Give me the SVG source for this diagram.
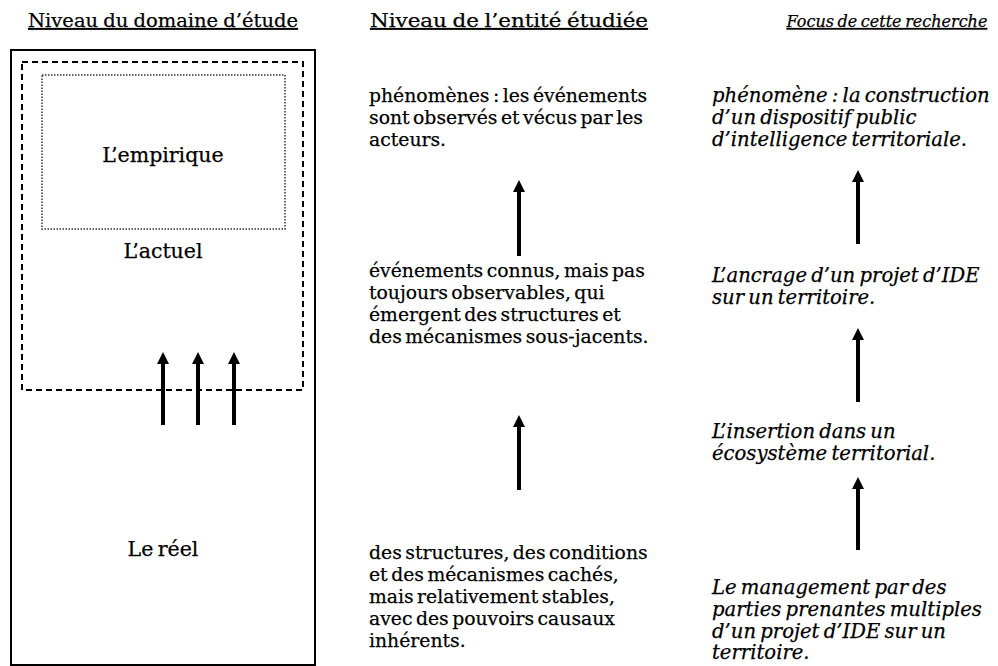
<svg xmlns="http://www.w3.org/2000/svg" width="998" height="666" viewBox="0 0 998 666">
  <style>
    text { font-family: "DejaVu Serif", "Liberation Serif", serif; fill: #000; stroke: #000; stroke-width: 0.25; font-size: 18.8px; word-spacing: -2.5px; }
    .hdr { text-decoration: underline; font-size: 18.5px; word-spacing: -1px; }
    .hdri { font-style: italic; font-size: 16px; word-spacing: -1.5px; text-anchor: middle; }
    .lbl { font-size: 20.5px; text-anchor: middle; word-spacing: -2px; }
    .it { font-style: italic; font-size: 19.6px; word-spacing: -2px; }
    .shaft { stroke: #000; stroke-width: 4; fill: none; }
  </style>
  <defs>
    <marker id="ah" markerUnits="userSpaceOnUse" markerWidth="12" markerHeight="12" viewBox="0 0 12 12" refX="2" refY="6" orient="auto">
      <path d="M0,0 L12,6 L0,12 z" fill="#000"/>
    </marker>
  </defs>
  <rect width="998" height="666" fill="#fff"/>

  <g id="headers">
    <text class="hdr" x="28" y="27" textLength="270" lengthAdjust="spacingAndGlyphs">Niveau du domaine d’étude</text>
    <text class="hdr" x="370" y="27" textLength="278" lengthAdjust="spacingAndGlyphs">Niveau de l’entité étudiée</text>
    <text class="hdr hdri" x="887" y="27">Focus de cette recherche</text>
  </g>

  <g id="domaine">
    <rect x="11" y="50" width="304" height="615" fill="none" stroke="#000" stroke-width="2"/>
    <rect x="22" y="62" width="281" height="328" fill="none" stroke="#000" stroke-width="2" stroke-dasharray="6 4"/>
    <rect x="42" y="75" width="243" height="154" fill="none" stroke="#333" stroke-width="1.5" stroke-dasharray="1.5 1.5"/>
    <text class="lbl" x="163" y="162">L’empirique</text>
    <text class="lbl" x="163" y="258">L’actuel</text>
    <text class="lbl" x="163" y="556">Le réel</text>
  </g>

  <g id="col-entite">
    <text x="369" y="102">phénomènes : les événements</text>
    <text x="369" y="124">sont observés et vécus par les</text>
    <text x="369" y="146">acteurs.</text>
    <text x="369" y="277">événements connus, mais pas</text>
    <text x="369" y="299">toujours observables, qui</text>
    <text x="369" y="321">émergent des structures et</text>
    <text x="369" y="343">des mécanismes sous-jacents.</text>
    <text x="369" y="559">des structures, des conditions</text>
    <text x="369" y="581">et des mécanismes cachés,</text>
    <text x="369" y="603">mais relativement stables,</text>
    <text x="369" y="625">avec des pouvoirs causaux</text>
    <text x="369" y="647">inhérents.</text>
  </g>

  <g id="col-focus">
    <text class="it" x="712" y="102">phénomène : la construction</text>
    <text class="it" x="712" y="124">d’un dispositif public</text>
    <text class="it" x="712" y="146">d’intelligence territoriale.</text>
    <text class="it" x="712" y="282">L’ancrage d’un projet d’IDE</text>
    <text class="it" x="712" y="304">sur un territoire.</text>
    <text class="it" x="712" y="438">L’insertion dans un</text>
    <text class="it" x="712" y="460">écosystème territorial.</text>
    <text class="it" x="712" y="594">Le management par des</text>
    <text class="it" x="712" y="616">parties prenantes multiples</text>
    <text class="it" x="712" y="638">d’un projet d’IDE sur un</text>
    <text class="it" x="712" y="659">territoire.</text>
  </g>

  <g id="connectors">
    <line class="shaft" x1="163" y1="425" x2="163" y2="362" marker-end="url(#ah)"/>
    <line class="shaft" x1="198" y1="425" x2="198" y2="362" marker-end="url(#ah)"/>
    <line class="shaft" x1="234" y1="425" x2="234" y2="362" marker-end="url(#ah)"/>
    <line class="shaft" x1="519" y1="256" x2="519" y2="190" marker-end="url(#ah)"/>
    <line class="shaft" x1="519" y1="490" x2="519" y2="425" marker-end="url(#ah)"/>
    <line class="shaft" x1="858" y1="244" x2="858" y2="180" marker-end="url(#ah)"/>
    <line class="shaft" x1="858" y1="402" x2="858" y2="338" marker-end="url(#ah)"/>
    <line class="shaft" x1="858" y1="550" x2="858" y2="487" marker-end="url(#ah)"/>
  </g>
</svg>
